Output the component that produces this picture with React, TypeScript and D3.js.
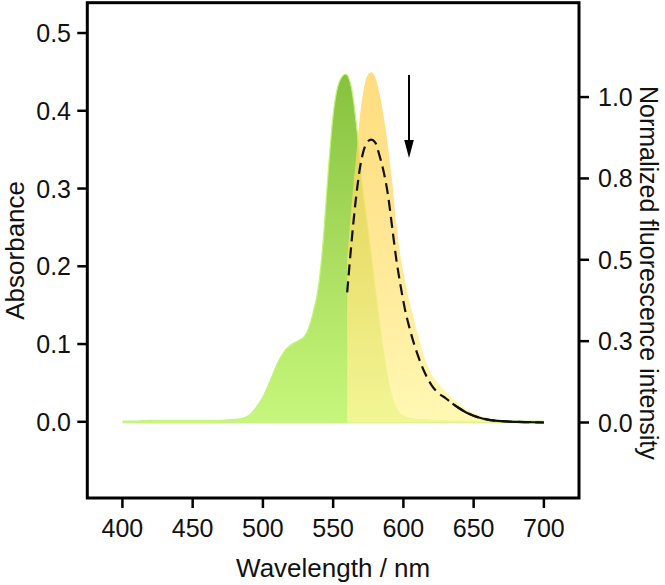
import React from 'react';
import * as d3 from 'd3';

// Absorbance spectrum (left axis)
const absWavelength = [400, 410, 420, 430, 440, 450, 460, 470, 480, 485, 490, 495, 500, 505, 510, 515, 520, 525, 530, 535, 540, 543, 546, 550, 555, 559, 563, 567, 571, 575, 580, 585, 590, 595, 600, 610, 620, 640, 660, 680, 700];
const absValue = [0.001, 0.001, 0.002, 0.002, 0.002, 0.002, 0.002, 0.002, 0.003, 0.004, 0.008, 0.018, 0.032, 0.052, 0.074, 0.09, 0.099, 0.104, 0.111, 0.135, 0.18, 0.235, 0.31, 0.395, 0.44, 0.447, 0.43, 0.375, 0.3, 0.245, 0.17, 0.1, 0.045, 0.017, 0.007, 0.003, 0.002, 0.001, 0.001, 0.001, 0.001];

// Fluorescence spectra (right axis)
const flWavelength = [560, 563, 566, 569, 572, 575, 577, 580, 583, 586, 589, 592, 595, 598, 601, 605, 610, 615, 620, 625, 630, 635, 640, 645, 650, 655, 660, 665, 670, 680, 690, 700];
const flInitial = [0.5, 0.66, 0.8, 0.94, 1.03, 1.07, 1.076, 1.06, 1.01, 0.94, 0.85, 0.74, 0.61, 0.51, 0.44, 0.36, 0.275, 0.2, 0.15, 0.12, 0.095, 0.074, 0.056, 0.041, 0.03, 0.021, 0.014, 0.009, 0.006, 0.003, 0.001, 0.0];
const flFinal = [0.4, 0.55, 0.68, 0.78, 0.84, 0.865, 0.869, 0.86, 0.82, 0.77, 0.7, 0.6, 0.5, 0.42, 0.35, 0.28, 0.21, 0.155, 0.115, 0.09, 0.075, 0.058, 0.043, 0.03, 0.021, 0.014, 0.009, 0.006, 0.004, 0.002, 0.001, 0.0];

const xTicks = [400, 450, 500, 550, 600, 650, 700];
const leftTicks = [0, 0.1, 0.2, 0.3, 0.4, 0.5];
const leftTickLabels = ['0.0', '0.1', '0.2', '0.3', '0.4', '0.5'];
const rightTicks = [0, 0.25, 0.5, 0.75, 1.0];
const rightTickLabels = ['0.0', '0.3', '0.5', '0.8', '1.0'];

const arrowWavelength = 604;
const arrowStart = 1.068;
const arrowEnd = 0.813;

const xTitle = 'Wavelength / nm';
const yLeftTitle = 'Absorbance';
const yRightTitle = 'Normalized fluorescence intensity';

const FONT = '"Liberation Sans", Arial, Helvetica, sans-serif';

export default function App() {
  const W = 665;
  const H = 585;
  const L = 87.3, R = 579, T = 2.7, B = 498;

  const x = d3.scaleLinear().domain([375, 725]).range([L, R]);
  const yL = d3.scaleLinear().domain([-0.098, 0.539]).range([B, T]);
  const yR = d3.scaleLinear().domain([-0.232, 1.29]).range([B, T]);

  const absData: [number, number][] = absWavelength.map((w, i) => [w, absValue[i]]);
  const flA: [number, number][] = flWavelength.map((w, i) => [w, flInitial[i]]);
  const flB: [number, number][] = flWavelength.map((w, i) => [w, flFinal[i]]);

  const absArea = d3.area<[number, number]>()
    .x(d => x(d[0]))
    .y0(yL(-0.002))
    .y1(d => yL(d[1]))
    .curve(d3.curveMonotoneX);
  const absLine = d3.line<[number, number]>()
    .x(d => x(d[0]))
    .y(d => yL(d[1]))
    .curve(d3.curveMonotoneX);

  const flArea = d3.area<[number, number]>()
    .x(d => x(d[0]))
    .y0(yR(0))
    .y1(d => yR(d[1]))
    .curve(d3.curveMonotoneX);
  const flLine = d3.line<[number, number]>()
    .x(d => x(d[0]))
    .y(d => yR(d[1]))
    .curve(d3.curveMonotoneX);

  const tail = flB.filter(d => d[0] >= 635);

  const ax = x(arrowWavelength);
  const ay0 = yR(arrowStart);
  const ay1 = yR(arrowEnd);

  return (
    <svg width={W} height={H} style={{ position: 'absolute', left: 0, top: 0, background: '#fff' }} fontFamily={FONT}>
      <defs>
        <linearGradient id="gAbs" gradientUnits="userSpaceOnUse" x1="0" x2="0" y1={yL(0.447)} y2={yL(0)}>
          <stop offset="0" stopColor="#86c23e" />
          <stop offset="0.5" stopColor="#a9dc5e" />
          <stop offset="1" stopColor="#c6f77c" />
        </linearGradient>
        <linearGradient id="gFl" gradientUnits="userSpaceOnUse" x1="0" x2="0" y1={yR(1.076)} y2={yR(0)}>
          <stop offset="0" stopColor="#ffd256" />
          <stop offset="0.5" stopColor="#ffe074" />
          <stop offset="1" stopColor="#fff69c" />
        </linearGradient>
      </defs>
      <rect x={0} y={0} width={W} height={H} fill="#fff" />

      {/* absorbance */}
      <path d={absArea(absData) || ''} fill="url(#gAbs)" />
      <path d={absLine(absData) || ''} fill="none" stroke="#c2f47a" strokeWidth={1.2} />

      {/* fluorescence initial */}
      <path d={flArea(flA) || ''} fill="url(#gFl)" fillOpacity={0.76} />

      {/* fluorescence final (dashed) */}
      <path d={flLine(flB) || ''} fill="none" stroke="#111" strokeWidth={2.2} strokeDasharray="11,6" />
      <path d={flLine(tail) || ''} fill="none" stroke="#111" strokeWidth={2.2} />

      {/* arrow */}
      <line x1={ax} x2={ax} y1={ay0} y2={ay1 - 14} stroke="#000" strokeWidth={2} />
      <path d={`M${ax - 4.8},${ay1 - 18} L${ax + 4.8},${ay1 - 18} L${ax},${ay1} Z`} fill="#000" />

      {/* frame */}
      <rect x={L} y={T} width={R - L} height={B - T} fill="none" stroke="#000" strokeWidth={3} />

      {/* bottom axis */}
      {xTicks.map(t => (
        <g key={'x' + t}>
          <line x1={x(t)} x2={x(t)} y1={B} y2={B + 10} stroke="#000" strokeWidth={2.5} />
          <text x={x(t)} y={536.5} textAnchor="middle" fontSize={25} fill="#111">{t}</text>
        </g>
      ))}
      <text x={(L + R) / 2} y={577} textAnchor="middle" fontSize={26} fill="#111">{xTitle}</text>

      {/* left axis */}
      {leftTicks.map((t, i) => (
        <g key={'l' + t}>
          <line x1={L - 10} x2={L} y1={yL(t)} y2={yL(t)} stroke="#000" strokeWidth={2.5} />
          <text x={71} y={yL(t)} dy="0.36em" textAnchor="end" fontSize={25} fill="#111">{leftTickLabels[i]}</text>
        </g>
      ))}
      <text transform={`translate(24,${(T + B) / 2}) rotate(-90)`} textAnchor="middle" fontSize={26} fill="#111">{yLeftTitle}</text>

      {/* right axis */}
      {rightTicks.map((t, i) => (
        <g key={'r' + t}>
          <line x1={R} x2={R + 10} y1={yR(t)} y2={yR(t)} stroke="#000" strokeWidth={2.5} />
          <text x={598} y={yR(t)} dy="0.36em" textAnchor="start" fontSize={25} fill="#111">{rightTickLabels[i]}</text>
        </g>
      ))}
      <text transform={`translate(640,86) rotate(90)`} textAnchor="start" fontSize={25} fill="#111">{yRightTitle}</text>
    </svg>
  );
}
